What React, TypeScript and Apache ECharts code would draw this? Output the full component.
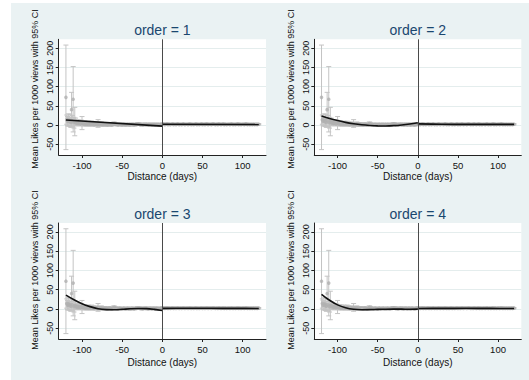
import React, { useEffect, useRef } from "react";
import * as echarts from "echarts";

// Days relative to the event (x positions of the binned means)
const days: number[] = [];
for (let d = -120; d <= 120; d++) days.push(d);

// Mean likes per 1000 views, day -120 .. -1
const meanBefore = [
  72, 14, 10, 13, 9, 12, 7, 40, 11, 67,
  6, 9, 8, 5, 7, 4, 6, 5, 3, 6,
  5, 4, 3, 5, 2, 4, 3, 2, 4, 3,
  2, 3, 4, 2, 3, 1, 2, 3, 2, 1,
  4, 2, 1, 2, 3, 1, 2, 1, 2, 1,
  2, 1, 0, 2, 1, 2, 1, 0, 1, 3,
  4, 2, 1, 2, 1, 0, 1, 2, 1, 1,
  0, 1, 2, 1, 0, 1, 1, 2, 0, 1,
  1, 0, 2, 1, 1, 0, 1, 2, 1, 2,
  3, 2, 1, 1, 2, 0, 1, 1, 2, 1,
  1, 2, 0, 1, 1, 2, 1, 0, 1, 2,
  1, 0, 1, 2, 1, 1, 0, 1, 2, 1,
];
// Mean likes per 1000 views, day 0 .. 120
const meanAfter = [
  2, 3, 2, 1, 2, 2, 3, 1, 2, 2,
  1, 2, 2, 3, 1, 2, 2, 1, 2, 3,
  2, 1, 2, 2, 1, 2, 3, 2, 1, 2,
  2, 2, 1, 2, 3, 2, 1, 2, 2, 1,
  2, 2, 3, 1, 2, 2, 1, 2, 2, 3,
  1, 2, 2, 1, 2, 3, 2, 1, 2, 2,
  2, 1, 2, 3, 2, 2, 1, 2, 2, 1,
  3, 2, 2, 1, 2, 2, 3, 1, 2, 2,
  1, 2, 2, 2, 1, 2, 3, 2, 1, 2,
  2, 1, 2, 2, 3, 1, 2, 2, 1, 2,
  2, 2, 1, 2, 3, 2, 1, 2, 2, 1,
  2, 2, 1, 2, 2, 1, 2, 2, 1, 2,
  2,
];
// Half width of the 95% CI, day -120 .. -1
const halfBefore = [
  136, 12, 12, 16, 10, 16, 13, 45, 14, 85,
  14, 37, 10, 6, 7, 6, 7, 5, 5, 7,
  17, 6, 5, 6, 4, 6, 5, 4, 6, 5,
  4, 5, 6, 4, 5, 3, 4, 5, 4, 3,
  10, 4, 3, 4, 5, 3, 4, 3, 4, 3,
  3, 3, 2, 4, 3, 3, 2, 2, 3, 4,
  4, 3, 2, 3, 2, 2, 2, 3, 2, 2,
  2, 2, 3, 2, 2, 2, 2, 3, 2, 2,
  2, 2, 3, 2, 2, 2, 2, 3, 2, 3,
  3, 3, 2, 2, 3, 2, 2, 2, 3, 2,
  2, 3, 2, 2, 2, 3, 2, 2, 2, 3,
  2, 2, 2, 3, 2, 2, 2, 2, 3, 2,
];
// Half width of the 95% CI, day 0 .. 120
const halfAfter = [
  2, 1.5, 1.5, 2, 1.5, 1.5, 2, 1.5, 1.5, 2,
  1.5, 2, 1.5, 1.5, 1.5, 2, 1.5, 1.5, 2, 1.5,
  1.5, 1.5, 2, 1.5, 1.5, 2, 1.5, 1.5, 1.5, 2,
  1.5, 2, 1.5, 1.5, 2, 1.5, 1.5, 1.5, 2, 1.5,
  2, 1.5, 1.5, 1.5, 2, 1.5, 2, 1.5, 1.5, 1.5,
  1.5, 2, 1.5, 1.5, 1.5, 2, 1.5, 1.5, 2, 1.5,
  2, 1.5, 1.5, 2, 1.5, 1.5, 1.5, 2, 1.5, 1.5,
  1.5, 1.5, 2, 1.5, 1.5, 2, 1.5, 1.5, 1.5, 2,
  1.5, 2, 1.5, 1.5, 1.5, 2, 1.5, 1.5, 2, 1.5,
  1.5, 1.5, 2, 1.5, 2, 1.5, 1.5, 1.5, 1.5, 2,
  2, 1.5, 1.5, 1.5, 2, 1.5, 1.5, 2, 1.5, 1.5,
  1.5, 2, 1.5, 1.5, 1.5, 1.5, 2, 1.5, 1.5, 2,
  1.5,
];

// Polynomial fits on each side of the cutoff
const fitDaysLeft = [-120, -110, -100, -90, -80, -70, -60, -50, -40, -30, -20, -10, 0];
const fitDaysRight = [0, 30, 60, 90, 120];
const linDaysLeft = [-120, 0];
const linDaysRight = [0, 120];
const order1Left = [13, -3];
const order1Right = [2, 1.5];
const order2Left = [23.4, 17.0, 11.6, 6.9, 3.3, 0.5, -1.3, -2.3, -2.4, -1.6, 0.1, 2.6, 6.0];
const order2Right = [3, 2, 1.7, 1.6, 1.6];
const order3Left = [36, 24, 13.5, 6, 0.5, -1.7, -2, -1, 0.3, 1, 0.7, -1.2, -4];
const order3Right = [1.5, 1.8, 1.6, 1.5, 1.2];
const order4Left = [38, 22.5, 10.5, 3, -1, -2, -1.8, -1.2, -0.7, -0.5, -0.6, -0.8, -0.5];
const order4Right = [1, 1.5, 1.6, 1.4, 1];

const orders = ["1", "2", "3", "4"];
const xTicks = [-100, -50, 0, 50, 100];
const yTicks = [-50, 0, 50, 100, 150, 200];

const FONT = '"Liberation Sans", Arial, Helvetica, sans-serif';
const PANEL_BG = "#eaf2f3";
const GRID_LINE = "#e4eded";
const CI_COLOR = "#c4c4c4";
const DOT_COLOR = "#b0b0b0";
const TITLE_COLOR = "#1a476f";

const pairs = (xs: number[], ys: number[]) => xs.map((x, i) => [x, ys[i]]);

export default function App() {
  const ref = useRef<HTMLDivElement>(null);

  useEffect(() => {
    if (!ref.current) return;
    const chart = echarts.init(ref.current, undefined, { renderer: "svg" });

    const means = [...meanBefore, ...meanAfter];
    const halves = [...halfBefore, ...halfAfter];
    const points = days.map((d, i) => [d, means[i]]);
    const bars = days.map((d, i) => [d, means[i] - halves[i], means[i] + halves[i]]);

    const fits = [
      { left: pairs(linDaysLeft, order1Left), right: pairs(linDaysRight, order1Right), smooth: false },
      { left: pairs(fitDaysLeft, order2Left), right: pairs(fitDaysRight, order2Right), smooth: true },
      { left: pairs(fitDaysLeft, order3Left), right: pairs(fitDaysRight, order3Right), smooth: true },
      { left: pairs(fitDaysLeft, order4Left), right: pairs(fitDaysRight, order4Right), smooth: true },
    ];

    // panel geometry: [left, top, width, height]
    const panels = [
      [58.7, 39.3, 207.3, 115.7],
      [314.3, 39.3, 207, 115.7],
      [58.7, 223, 207.3, 116],
      [314.3, 223, 207, 116],
    ];
    const nameGaps = [16, 16, 18, 18];
    const yTitlePos = [
      [34.5, 89],
      [291, 89],
      [34.5, 270],
      [291, 270],
    ];
    const titleY = [29.5, 29.5, 214, 214];

    const grid = panels.map((p) => ({
      left: p[0],
      top: p[1],
      width: p[2],
      height: p[3],
      show: true,
      backgroundColor: "#ffffff",
      borderWidth: 0,
      containLabel: false,
    }));

    const xAxis = panels.map((_, i) => ({
      type: "value",
      gridIndex: i,
      min: -129,
      max: 129,
      name: "Distance (days)",
      nameLocation: "middle",
      nameGap: nameGaps[i],
      nameTextStyle: { fontFamily: FONT, fontSize: 10, color: "#111" },
      axisLine: { show: true, onZero: false, lineStyle: { color: "#222", width: 1 } },
      axisTick: { show: true, length: 3, customValues: xTicks, lineStyle: { color: "#222" } },
      axisLabel: { customValues: xTicks, fontFamily: FONT, fontSize: 9.5, color: "#111", margin: 5 },
      splitLine: { show: false },
    }));

    const yAxis = panels.map((_, i) => ({
      type: "value",
      gridIndex: i,
      min: -78,
      max: 223,
      axisLine: { show: true, onZero: false, lineStyle: { color: "#222", width: 1 } },
      axisTick: { show: true, length: 3, customValues: yTicks, lineStyle: { color: "#222" } },
      axisLabel: { customValues: yTicks, rotate: 90, fontFamily: FONT, fontSize: 9, color: "#111", margin: 4 },
      splitLine: { show: true, lineStyle: { color: GRID_LINE, width: 1 } },
    }));

    const series: any[] = [];
    panels.forEach((_, i) => {
      series.push({
        type: "custom",
        xAxisIndex: i,
        yAxisIndex: i,
        data: bars,
        encode: { x: 0, y: [1, 2] },
        z: 2,
        silent: true,
        renderItem: (params: any, api: any) => {
          const x = api.value(0);
          const lo = api.coord([x, api.value(1)]);
          const hi = api.coord([x, api.value(2)]);
          const cap = 2.5;
          const style = { stroke: CI_COLOR, lineWidth: 1 };
          return {
            type: "group",
            children: [
              { type: "line", shape: { x1: lo[0], y1: lo[1], x2: hi[0], y2: hi[1] }, style },
              { type: "line", shape: { x1: hi[0] - cap, y1: hi[1], x2: hi[0] + cap, y2: hi[1] }, style },
              { type: "line", shape: { x1: lo[0] - cap, y1: lo[1], x2: lo[0] + cap, y2: lo[1] }, style },
            ],
          };
        },
      });
      series.push({
        type: "scatter",
        xAxisIndex: i,
        yAxisIndex: i,
        data: points,
        symbol: "circle",
        symbolSize: 3.6,
        itemStyle: { color: DOT_COLOR },
        z: 3,
        silent: true,
        markLine: {
          silent: true,
          symbol: "none",
          label: { show: false },
          lineStyle: { color: "#4a4a4a", width: 1, type: "solid" },
          data: [{ xAxis: 0 }],
          z: 6,
        },
      });
      const f = fits[i];
      [f.left, f.right].forEach((seg) => {
        series.push({
          type: "line",
          xAxisIndex: i,
          yAxisIndex: i,
          data: seg,
          smooth: f.smooth ? 0.35 : false,
          showSymbol: false,
          symbol: "none",
          lineStyle: { color: "#111", width: 1.6 },
          z: 5,
          silent: true,
        });
      });
    });

    const graphic: any[] = [
      {
        type: "rect",
        z: -10,
        silent: true,
        shape: { x: 11, y: 3, width: 518, height: 377 },
        style: { fill: PANEL_BG },
      },
    ];
    panels.forEach((p, i) => {
      graphic.push({
        type: "text",
        x: p[0] + p[2] / 2,
        y: titleY[i],
        silent: true,
        style: {
          text: `order = ${orders[i]}`,
          fill: TITLE_COLOR,
          font: `14px ${FONT}`,
          align: "center",
          verticalAlign: "middle",
        },
      });
      graphic.push({
        type: "text",
        x: yTitlePos[i][0],
        y: yTitlePos[i][1],
        rotation: Math.PI / 2,
        silent: true,
        style: {
          text: "Mean Likes per 1000 views with 95% CI",
          fill: "#111",
          font: `9px ${FONT}`,
          align: "center",
          verticalAlign: "middle",
        },
      });
    });

    chart.setOption({
      animation: false,
      backgroundColor: "#ffffff",
      grid,
      xAxis,
      yAxis,
      series,
      graphic,
    });

    return () => chart.dispose();
  }, []);

  return (
    <div
      ref={ref}
      style={{ position: "fixed", left: 0, top: 0, width: 529, height: 380 }}
    />
  );
}
